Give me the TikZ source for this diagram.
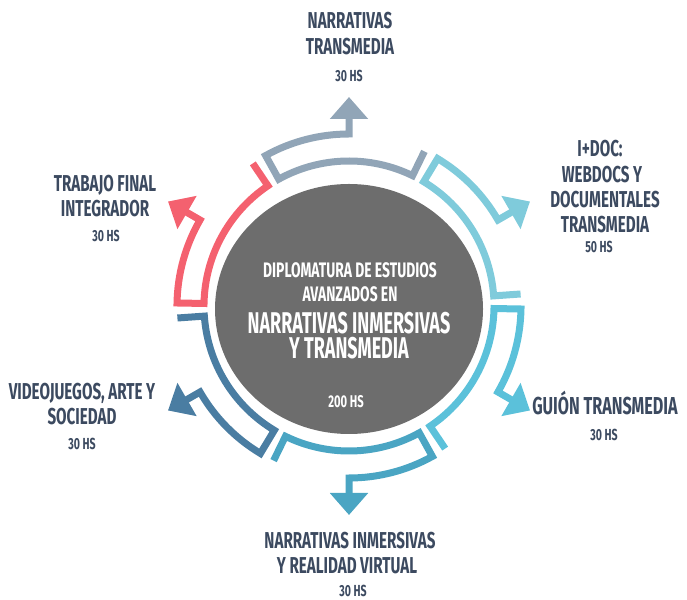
\documentclass[tikz,border=0pt]{standalone}
\usepackage{fontspec}
\setmainfont{Fira Sans}[FakeStretch=0.66]
\newfontfamily\bigf{Fira Sans}[FakeStretch=0.6]
\usetikzlibrary{arrows.meta,calc}
\definecolor{cTop}{HTML}{91A5B7}
\definecolor{cDoc}{HTML}{7FCBDB}
\definecolor{cGuion}{HTML}{5BC1DA}
\definecolor{cInm}{HTML}{4AA5C3}
\definecolor{cVid}{HTML}{4A7DA2}
\definecolor{cTFI}{HTML}{F4616F}
\definecolor{cDisc}{HTML}{6D6D6D}
\definecolor{cText}{HTML}{3C4A60}
\tikzset{
  seg/.style={line width=7pt, line join=miter, -{Triangle[width=37pt,length=22pt]}},
  lab/.style={anchor=base, inner sep=0pt, text depth=0pt, text=cText, font=\bfseries\fontsize{23}{26}\selectfont},
  hs/.style={anchor=base, inner sep=0pt, text depth=0pt, text=cText, font=\bfseries\fontsize{16}{18}\selectfont},
  ctr/.style={anchor=base, inner sep=0pt, text depth=0pt, text=white, font=\bfseries\fontsize{21}{24}\selectfont},
  big/.style={inner sep=0pt, align=center, text=white, font=\bigf\bfseries\fontsize{30}{25}\selectfont},
}
\newcommand{\rin}{145}
\newcommand{\rout}{172}
\newcommand{\rtip}{209}
\begin{document}
\begin{tikzpicture}[x=1pt,y=1pt]
\useasboundingbox (0,0) rectangle (687,599);
\coordinate (C) at (349,293);
% central disc
\fill[cDisc] (349,290) ellipse [x radius=134, y radius=125];
% ring segments
\foreach \a/\c in {90/cTop, 30/cDoc, -30/cGuion, -90/cInm, -150/cVid, 150/cTFI} {
  \draw[seg, draw=\c, fill=none, \c]
    ($(C)+(\a-26:\rout)$) -- ($(C)+(\a-26:\rin)$)
    arc[start angle=\a-26, end angle=\a+29, radius=\rin]
    -- ($(C)+(\a+29:\rout)$)
    arc[start angle=\a+29, end angle=\a, radius=\rout]
    -- ($(C)+(\a:\rtip)$);
}
% centre text
\node[ctr] (c1) at (350,{599-278}) {DIPLOMATURA DE ESTUDIOS};
\node[ctr] (c2) at (350,{599-302}) {AVANZADOS EN};
\node[big] (c3) at (349,{599-336}) {NARRATIVAS INMERSIVAS\\Y TRANSMEDIA};
\node[ctr, font=\bfseries\fontsize{17}{19}\selectfont] (c5) at (346,{599-408}) {200 HS};
% top
\node[lab] (t1) at (350,{599-29}) {NARRATIVAS};
\node[lab] (t2) at (350,{599-55}) {TRANSMEDIA};
\node[hs] (t3) at (349,{599-82}) {30 HS};
% I+DOC
\node[lab] (d1) at (600,{599-157}) {I+DOC:};
\node[lab] (d2) at (602,{599-183}) {WEBDOCS Y};
\node[lab] (d3) at (605,{599-208}) {DOCUMENTALES};
\node[lab] (d4) at (605,{599-233}) {TRANSMEDIA};
\node[hs] (d5) at (599,{599-253}) {50 HS};
% guion
\node[lab, font=\bfseries\fontsize{24.5}{28}\selectfont] (g1) at (605,{599-415}) {GUIÓN TRANSMEDIA};
\node[hs] (g2) at (604,{599-441}) {30 HS};
% bottom
\node[lab] (b1) at (350,{599-548}) {NARRATIVAS INMERSIVAS};
\node[lab] (b2) at (347,{599-573}) {Y REALIDAD VIRTUAL};
\node[hs] (b3) at (353,{599-596}) {30 HS};
% videojuegos
\node[lab] (v1) at (82,{599-400}) {VIDEOJUEGOS, ARTE Y};
\node[lab] (v2) at (82,{599-425}) {SOCIEDAD};
\node[hs] (v3) at (82,{599-450}) {30 HS};
% trabajo final
\node[lab] (f1) at (105,{599-192}) {TRABAJO FINAL};
\node[lab] (f2) at (105,{599-217}) {INTEGRADOR};
\node[hs] (f3) at (106,{599-242}) {30 HS};
\end{tikzpicture}
\end{document}
